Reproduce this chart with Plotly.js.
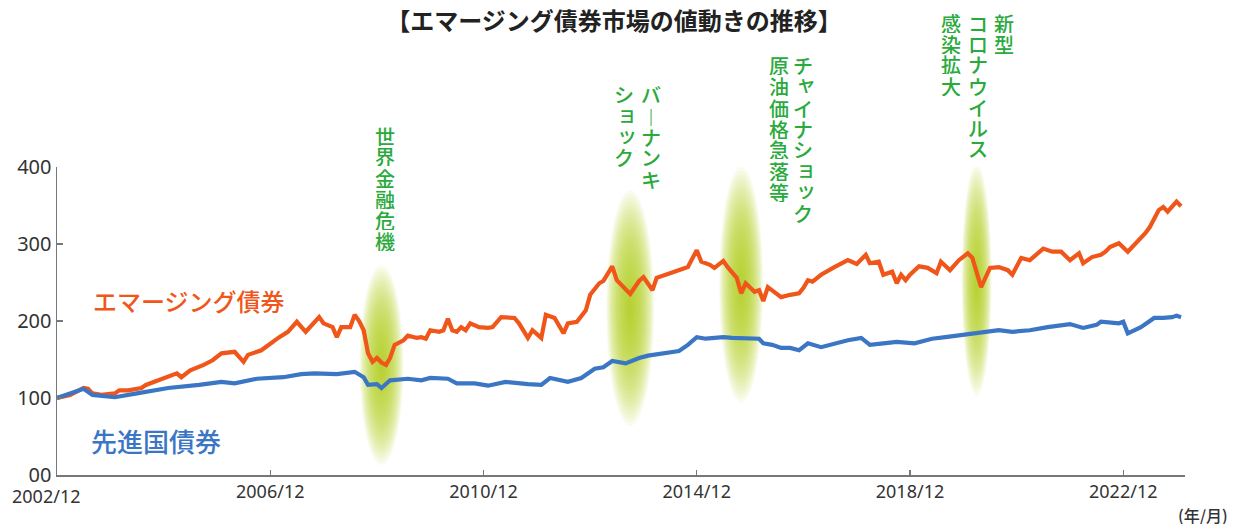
<!DOCTYPE html>
<html>
<head>
<meta charset="utf-8">
<script src="https://cdn.plot.ly/plotly-3.0.1.min.js"></script>
<style>html,body{margin:0;padding:0;background:#fff;}#chart{width:1235px;height:527px;}</style>
</head>
<body>
<div id="chart"></div>
<script>
// ---- data ----
const emDates = ['2002-12','2003-03','2003-06','2003-07','2003-08','2003-10','2004-01','2004-02','2004-04','2004-07','2004-08','2004-10','2005-01','2005-03','2005-04','2005-06','2005-09','2005-11','2006-01','2006-04','2006-06','2006-07','2006-10','2006-12','2007-02','2007-04','2007-06','2007-08','2007-11','2007-12','2008-02','2008-03','2008-04','2008-06','2008-07','2008-08','2008-09','2008-10','2008-11','2008-12','2009-01','2009-02','2009-03','2009-04','2009-06','2009-07','2009-09','2009-10','2009-11','2009-12','2010-02','2010-03','2010-04','2010-05','2010-06','2010-07','2010-08','2010-09','2010-11','2011-01','2011-02','2011-04','2011-07','2011-08','2011-10','2011-11','2012-01','2012-02','2012-04','2012-06','2012-07','2012-09','2012-11','2012-12','2013-02','2013-03','2013-05','2013-06','2013-09','2013-11','2013-12','2014-02','2014-03','2014-06','2014-08','2014-10','2014-12','2015-01','2015-03','2015-04','2015-06','2015-07','2015-09','2015-10','2015-11','2016-01','2016-02','2016-03','2016-04','2016-05','2016-07','2016-09','2016-11','2016-12','2017-01','2017-02','2017-04','2017-07','2017-08','2017-10','2017-12','2018-02','2018-03','2018-05','2018-06','2018-08','2018-09','2018-10','2018-11','2018-12','2019-02','2019-04','2019-06','2019-07','2019-09','2019-11','2020-01','2020-02','2020-04','2020-06','2020-08','2020-10','2020-11','2021-01','2021-03','2021-06','2021-08','2021-10','2021-12','2022-02','2022-03','2022-05','2022-07','2022-08','2022-09','2022-11','2023-01','2023-03','2023-05','2023-06','2023-08','2023-09','2023-10','2023-12','2024-01'];
const emValues = [100,104,113,112,106,104,106,110,110,113,117,121,127,132,127,136,143,149,158,160,147,156,162,171,179,186,199,186,205,197,192,179,192,192,208,200,188,158,147,152,146,143,152,169,175,181,178,179,177,188,186,188,203,188,186,192,188,197,192,191,192,205,204,197,178,188,178,208,204,184,197,199,214,234,249,252,271,253,235,252,257,240,256,262,266,270,292,277,273,269,278,270,256,236,249,238,240,226,244,240,231,234,236,243,253,251,260,270,273,279,274,286,275,277,260,264,249,260,253,260,271,269,262,277,266,279,288,282,244,269,270,266,260,282,279,294,290,290,279,288,275,283,286,290,296,301,290,301,314,322,344,348,342,355,349];

const dmDates = ['2002-12','2003-06','2003-08','2004-01','2004-06','2005-01','2005-08','2006-01','2006-04','2006-09','2007-03','2007-07','2007-10','2008-03','2008-07','2008-09','2008-10','2008-12','2009-01','2009-03','2009-07','2009-10','2009-12','2010-04','2010-06','2010-10','2011-01','2011-05','2011-10','2012-01','2012-03','2012-07','2012-10','2013-01','2013-03','2013-05','2013-08','2013-11','2014-01','2014-05','2014-08','2014-10','2014-12','2015-02','2015-06','2015-08','2015-11','2016-02','2016-03','2016-05','2016-07','2016-09','2016-11','2017-01','2017-04','2017-06','2017-10','2018-01','2018-03','2018-06','2018-09','2019-01','2019-05','2019-08','2019-12','2020-04','2020-08','2020-11','2021-03','2021-07','2021-10','2021-12','2022-03','2022-06','2022-07','2022-11','2022-12','2023-01','2023-04','2023-07','2023-09','2023-11','2023-12','2024-01'];
const dmValues = [100,112,104,101,106,113,117,121,119,125,127,131,132,131,134,127,117,118,113,123,125,123,126,125,119,119,116,121,118,117,126,121,126,138,140,148,145,152,155,158,161,169,179,177,179,178,178,177,171,169,165,165,162,171,166,169,175,178,169,171,173,171,177,179,182,186,188,186,188,192,195,196,191,195,199,197,199,184,192,204,204,205,207,205];

const xTickDates  = ['2002-12-01','2006-12-01','2010-12-01','2014-12-01','2018-12-01','2022-12-01'];
const xTickLabels = ['2002/12','2006/12','2010/12','2014/12','2018/12','2022/12'];
const yTickValues = [0,100,200,300,400];
const yTickLabels = ['00','100','200','300','400'];

const seriesNames = ['エマージング債券','先進国債券'];
const titleText = '【エマージング債券市場の値動きの推移】';
const unitText = '(年/月)';

const eventDates  = ['2009-01-01','2013-09-01','2015-10-01','2020-03-01'];
const eventLabels = [['世界金融危機'], ['バーナンキ','ショック'], ['チャイナショック','原油価格急落等'], ['新型','コロナウイルス','感染拡大']];

// ---- styling / layout ----
const ORANGE = '#f0561a', BLUE = '#3b76c4', GREEN = '#2aaa3c';
const PL = 57, PR = 1185, PT = 167, PB = 475;
const px2x = px => (px - PL) / (PR - PL);
const px2y = py => (PB - py) / (PB - PT);
const CJK = '"Noto Sans CJK JP", "Noto Sans", sans-serif';

const traces = [
  {x: emDates.map(d => d + '-01'), y: emValues, type: 'scatter', mode: 'lines', name: seriesNames[0],
   line: {color: ORANGE, width: 4.2}, hoverinfo: 'skip'},
  {x: dmDates.map(d => d + '-01'), y: dmValues, type: 'scatter', mode: 'lines', name: seriesNames[1],
   line: {color: BLUE, width: 4.2}, hoverinfo: 'skip'}
];

// glow ellipses (pixel-sized, anchored at event dates)
const glowGeom = [ // [yAnchorValue, halfWidthPx, halfHeightPx]
  [143, 22, 100], [217, 24, 118], [247, 22, 118], [253, 15, 116]
];
const shapes = [];
const NL = 30;
eventDates.forEach((d, i) => {
  const [ya, hw, hh] = glowGeom[i];
  for (let k = 0; k < NL; k++) {
    const f = 1 - k / NL;
    shapes.push({type: 'circle', layer: 'below', xref: 'x', yref: 'y',
      xsizemode: 'pixel', ysizemode: 'pixel', xanchor: d, yanchor: ya,
      x0: -hw * f, x1: hw * f, y0: -hh * f, y1: hh * f,
      fillcolor: 'rgba(186,208,30,0.065)', line: {width: 0}});
  }
});

// vertical labels, one character per annotation
const colGeom = [ // per event: [centerX, topY] for each column
  [[385, 125]],
  [[651, 84], [624, 84]],
  [[803, 55], [779, 55]],
  [[1004, 12], [978, 12], [951, 12]]
];
const annotations = [];
const PITCH = 21;
const small = 'ャュョッァィゥェォ';
eventLabels.forEach((cols, i) => {
  cols.forEach((txt, j) => {
    const [cx, top] = colGeom[i][j];
    Array.from(txt).forEach((ch, n) => {
      let c = ch, xs = 0, ys = 0;
      if (ch === 'ー') c = '︱';
      if (small.includes(ch)) { xs = 3; ys = 3; }
      annotations.push({text: c, xref: 'paper', yref: 'paper',
        x: px2x(cx), y: px2y(top + PITCH * (n + 0.5)), xanchor: 'center', yanchor: 'middle',
        xshift: xs, yshift: ys, showarrow: false, height: 20, borderpad: 0,
        font: {family: CJK, size: 20, color: GREEN, weight: 500}});
    });
  });
});

annotations.push({text: seriesNames[0], xref: 'paper', yref: 'paper', x: px2x(91), y: px2y(300),
  xanchor: 'left', yanchor: 'middle', showarrow: false, font: {family: CJK, size: 24, color: ORANGE, weight: 500}});
annotations.push({text: seriesNames[1], xref: 'paper', yref: 'paper', x: px2x(89), y: px2y(440),
  xanchor: 'left', yanchor: 'middle', showarrow: false, font: {family: CJK, size: 26, color: BLUE, weight: 500}});
annotations.push({text: unitText, xref: 'paper', yref: 'paper', x: px2x(1229), y: px2y(515),
  xanchor: 'right', yanchor: 'middle', showarrow: false, height: 18, borderpad: 0,
  font: {family: CJK, size: 16, color: '#333', weight: 500}});
annotations.push({text: xTickLabels[0], xref: 'paper', yref: 'paper', x: px2x(46), y: px2y(496),
  xanchor: 'center', yanchor: 'middle', showarrow: false, font: {family: '"Noto Sans", sans-serif', size: 18, color: '#333'}});

const layout = {
  width: 1235, height: 527,
  margin: {l: PL, r: 1235 - PR, t: PT, b: 527 - PB},
  paper_bgcolor: '#fff', plot_bgcolor: '#fff',
  showlegend: false,
  title: {text: '<b>' + titleText + '</b>', x: 614 / 1235, xref: 'container', xanchor: 'center',
          y: 1 - 22 / 527, yref: 'container', yanchor: 'middle',
          font: {family: CJK, size: 24, color: '#222'}},
  xaxis: {type: 'date', range: ['2002-12-01', '2024-01-28'],
          tickmode: 'array', tickvals: xTickDates.slice(1), ticktext: xTickLabels.slice(1),
          ticks: 'inside', ticklen: 5, tickcolor: '#777', tickwidth: 1.3,
          showline: true, linecolor: '#777', linewidth: 1.5, showgrid: false, zeroline: false,
          tickfont: {family: '"Noto Sans", sans-serif', size: 18, color: '#333'}},
  yaxis: {range: [0, 400], tickmode: 'array', tickvals: yTickValues, ticktext: yTickLabels,
          ticks: 'inside', ticklen: 6, tickcolor: '#777', tickwidth: 1.3,
          showline: true, linecolor: '#777', linewidth: 1.5, showgrid: false, zeroline: false,
          tickfont: {family: '"Noto Sans", sans-serif', size: 20, color: '#333'}},
  shapes: shapes,
  annotations: annotations
};

Plotly.newPlot('chart', traces, layout, {staticPlot: true, displayModeBar: false});
</script>
</body>
</html>
